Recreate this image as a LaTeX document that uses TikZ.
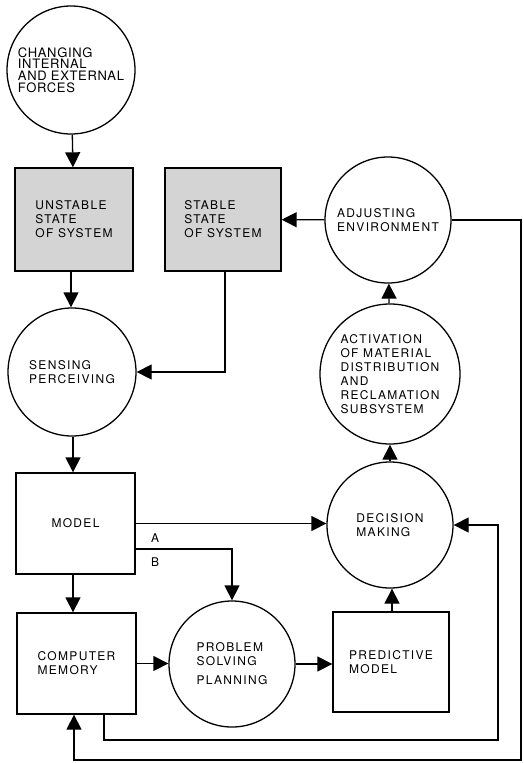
\documentclass[tikz,border=0pt]{standalone}
\usepackage{fontspec}
\newfontfamily\diagfont{TeX Gyre Heros}[LetterSpace=11]
\newfontfamily\topfont{TeX Gyre Heros}[LetterSpace=5]
\usepackage{xcolor}
\usepackage{tikz}
\usetikzlibrary{arrows.meta,positioning,calc}

\begin{document}
\begin{tikzpicture}[x=1pt,y=-1pt,
    font=\diagfont\fontsize{12}{14}\selectfont,
    line width=1.3pt,
    arr/.style={-{Triangle[length=15pt,width=15pt]}},
    circ/.style={draw,circle,align=left,inner sep=0pt},
    blk/.style={draw,rectangle,align=left,inner sep=0pt},
    shade/.style={blk,fill=black!17}]
    \useasboundingbox (0,0) rectangle (523,763);

    % Kreise
    \node[circ,minimum size=128pt,font=\topfont\fontsize{13}{11.7}\selectfont] (forces) at (71,70) {CHANGING\\INTERNAL\\AND EXTERNAL\\FORCES};
    \node[circ,minimum size=128pt] (sensing) at (72,372) {SENSING\\PERCEIVING};
    \node[circ,minimum size=126pt] (adjust) at (388,220) {ADJUSTING\\ENVIRONMENT};
    \node[circ,minimum size=140pt] (activ) at (390,374) {ACTIVATION\\OF MATERIAL\\DISTRIBUTION\\AND\\RECLAMATION\\SUBSYSTEM};
    \node[circ,minimum size=126pt] (decision) at (390,525) {DECISION\\MAKING};
    \node[circ,minimum size=126pt] (problem) at (232,664) {PROBLEM\\SOLVING\\[5pt]PLANNING};

    % Kaesten
    \node[shade,minimum width=118pt,minimum height=103pt] (unstable) at (74,219.5) {UNSTABLE\\STATE\\OF SYSTEM};
    \node[shade,minimum width=116pt,minimum height=103pt] (stable) at (223,219.5) {STABLE\\STATE\\OF SYSTEM};
    \node[blk,minimum width=119pt,minimum height=101pt] (model) at (75.5,523.5) {MODEL};
    \node[blk,minimum width=119pt,minimum height=101pt] (memory) at (76.5,663.5) {COMPUTER\\MEMORY};
    \node[blk,minimum width=116pt,minimum height=100pt] (predict) at (391,662) {PREDICTIVE\\MODEL};

    % Beschriftung A/B
    \node (lblA) at (155,538) {A};
    \node (lblB) at (155,562) {B};

    % Verbindungen
    \draw[arr] (forces) -- (unstable);
    \draw[arr] ([xshift=-3pt]unstable.south) -- ([xshift=-3pt]unstable.south |- sensing.north);
    \draw[arr] (adjust) -- (stable);
    \draw[arr] ([xshift=2pt]stable.south) |- (sensing.east);
    \draw[arr] ([xshift=1pt]sensing.south) -- ([xshift=1pt]sensing.south |- model.north);
    \draw[arr] (model.east) -- (model.east -| decision.west);
    \draw[arr] ([yshift=-25.5pt]model.east) -| (problem.north);
    \draw[arr] ([xshift=-2.5pt]model.south) -- ([xshift=-2.5pt]model.south |- memory.north);
    \draw[arr] (memory.east) -- (memory.east -| problem.west);
    \draw[arr] (problem.east) -- (problem.east -| predict.west);
    \draw[arr] ([xshift=1pt]predict.north) -- ([xshift=1pt]predict.north |- decision.south);
    \draw[arr] (decision) -- (activ);
    \draw[arr] (activ) -- (adjust);

    % Rueckfuehrungen
    \coordinate (loopR) at (498,740);
    \draw[arr] ([xshift=27.5pt]memory.south) |- (loopR) |- (decision.east);
    \coordinate (edgeBR) at (521,760);
    \draw[arr] (adjust.east) -| (edgeBR) -| ([xshift=-2.5pt]memory.south);
\end{tikzpicture}
\end{document}
